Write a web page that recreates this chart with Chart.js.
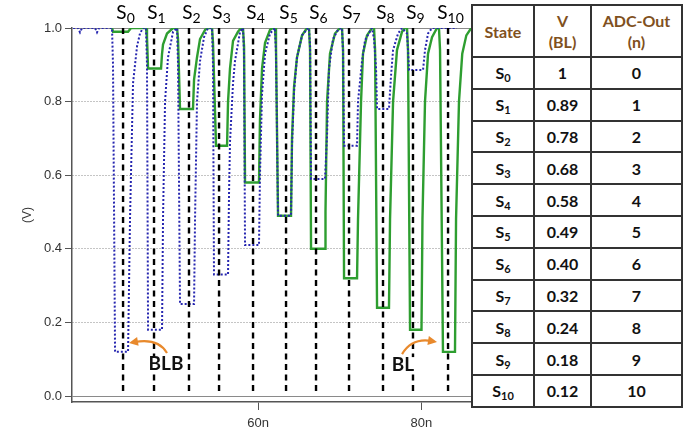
<!DOCTYPE html>
<html><head>
<meta charset="utf-8">
<title>BL / BLB sensing states</title>
<script src="https://cdn.jsdelivr.net/npm/chart.js@4"></script>
<style>
body { margin: 0; background: #fff; }
#wrap { position: relative; width: 697px; height: 432px; overflow: hidden; }
#chartBox { position: absolute; left: 0; top: 0; width: 697px; height: 432px; }
#tbl { position: absolute; left: 471px; top: 4px; width: 212px; table-layout: fixed; border-collapse: collapse;
  background: #fff; font-family: Lato, "Open Sans", sans-serif; font-weight: bold; font-size: 16px; color: #111; }
#tbl th, #tbl td { border: 2px solid #333; text-align: center; padding: 0; }
#tbl th { color: #7f5020; height: 50px; line-height: 21px; }
#tbl td { height: 29.8px; }
#tbl sub { font-size: 11px; vertical-align: -3px; line-height: 0; }
</style></head><body>
<div id="wrap">
<div id="chartBox"><canvas id="chart"></canvas></div>
<table id="tbl"></table>
</div>
<script>
// State marks (ns) and table contents
const stateSubs = ['0', '1', '2', '3', '4', '5', '6', '7', '8', '9', '10'];
const statePos = [43.48, 47.27, 51.55, 55.23, 59.39, 63.43, 67.10, 71.14, 75.30, 78.97, 83.26];
const blLevels = ['1', '0.89', '0.78', '0.68', '0.58', '0.49', '0.40', '0.32', '0.24', '0.18', '0.12'];
const adcOut = [0, 1, 2, 3, 4, 5, 6, 7, 8, 9, 10];

const yTicks = [0, 0.2, 0.4, 0.6, 0.8, 1.0];
const xTicks = [60, 80];

// BL waveform (green), [time ns, volts]
const blTrace = [
  [42.13, 1.0], [42.25, 0.99], [44.09, 0.99], [44.46, 1.0],
  [46.29, 1.0], [46.41, 0.975], [46.54, 0.89], [48.13, 0.89], [48.25, 0.93], [48.37, 0.955], [48.86, 0.985], [49.60, 1.0],
  [50.09, 1.0], [50.21, 0.97], [50.45, 0.78], [52.04, 0.78], [52.17, 0.86], [52.53, 0.92], [52.90, 0.97], [53.52, 0.995], [53.88, 1.0],
  [54.37, 1.0], [54.49, 0.96], [54.86, 0.68], [56.21, 0.68], [56.33, 0.80], [56.57, 0.89], [56.94, 0.965], [57.55, 0.99], [57.92, 1.0],
  [58.16, 1.0], [58.29, 0.95], [58.41, 0.58], [60.12, 0.58], [60.24, 0.75], [60.49, 0.89], [60.86, 0.96], [61.47, 0.995], [61.84, 1.0],
  [62.08, 1.0], [62.20, 0.95], [62.45, 0.49], [64.04, 0.49], [64.16, 0.70], [64.41, 0.84], [64.77, 0.92], [65.39, 0.98], [66.00, 1.0],
  [66.24, 1.0], [66.37, 0.94], [66.49, 0.40], [68.20, 0.40], [68.26, 0.50], [68.45, 0.80], [68.81, 0.93], [69.42, 0.985], [70.04, 1.0],
  [70.28, 1.0], [70.41, 0.94], [70.53, 0.32], [72.12, 0.32], [72.24, 0.48], [72.61, 0.80], [72.85, 0.93], [73.34, 0.98], [73.95, 1.0],
  [74.20, 1.0], [74.33, 0.94], [74.57, 0.24], [76.03, 0.24], [76.16, 0.48], [76.53, 0.80], [77.01, 0.94], [77.63, 0.99], [77.99, 1.0],
  [78.24, 1.0], [78.36, 0.94], [78.61, 0.18], [80.01, 0.18], [80.13, 0.48], [80.44, 0.80], [80.81, 0.93], [81.30, 0.975], [81.91, 1.0],
  [82.15, 1.0], [82.28, 0.94], [82.64, 0.12], [84.11, 0.12], [84.24, 0.48], [84.60, 0.80], [85.00, 0.93], [85.50, 0.98], [86.10, 1.0],
  [88.00, 1.0]
];

// BLB waveform (blue dotted), [time ns, volts]
const blbTrace = [
  [37.36, 1.0], [37.97, 1.0], [38.21, 0.988], [38.46, 1.0], [40.05, 1.0], [40.29, 0.988], [40.54, 1.0],
  [42.13, 1.0], [42.25, 0.90], [42.50, 0.12], [44.09, 0.12], [44.21, 0.30], [44.33, 0.48], [44.70, 0.85], [45.19, 0.95], [45.55, 0.985], [45.92, 1.0],
  [46.29, 1.0], [46.41, 0.90], [46.54, 0.18], [48.25, 0.18], [48.37, 0.48], [48.62, 0.80], [48.98, 0.92], [49.60, 0.99], [50.09, 1.0],
  [50.21, 0.90], [50.45, 0.25], [52.17, 0.25], [52.29, 0.48], [52.53, 0.80], [52.90, 0.91], [53.39, 0.975], [53.88, 1.0],
  [54.37, 1.0], [54.49, 0.90], [54.61, 0.33], [56.33, 0.33], [56.45, 0.55], [56.57, 0.69], [56.94, 0.85], [57.18, 0.91], [57.80, 0.99], [58.16, 1.0],
  [58.29, 0.93], [58.41, 0.41], [60.12, 0.41], [60.24, 0.60], [60.49, 0.82], [60.86, 0.93], [61.47, 0.985], [62.08, 1.0],
  [62.20, 0.93], [62.45, 0.49], [64.04, 0.49], [64.16, 0.68], [64.41, 0.83], [64.77, 0.92], [65.39, 0.98], [66.12, 1.0],
  [66.24, 1.0], [66.37, 0.95], [66.49, 0.59], [68.20, 0.59], [68.45, 0.71], [68.69, 0.89], [69.18, 0.97], [69.79, 0.995], [70.16, 1.0],
  [70.28, 1.0], [70.41, 0.93], [70.53, 0.68], [72.12, 0.68], [72.24, 0.80], [72.73, 0.91], [73.10, 0.967], [73.95, 1.0],
  [74.20, 0.97], [74.45, 0.89], [74.57, 0.78], [76.03, 0.78], [76.28, 0.87], [76.53, 0.94], [77.14, 0.985], [77.63, 1.0],
  [78.24, 0.985], [78.36, 0.94], [78.49, 0.886], [80.20, 0.886], [80.44, 0.94], [80.81, 0.985], [81.30, 1.0],
  [84.36, 1.0]
];

// annotation labels and arrows (data coords): text, label pos, arrow tail / bend / tip
const noteText = ['BLB', 'BL'];
const notePos = [[48.74, 0.087], [77.75, 0.084]];
const arrowTail = [[48.86, 0.117], [77.63, 0.114]];
const arrowBend = [[47.76, 0.158], [78.85, 0.158]];
const arrowTip = [[44.21, 0.144], [81.91, 0.147]];

const X_MIN = 37.23, X_MAX = 89.62, Y_MIN = -0.0163, Y_MAX = 1.0;

const markerSets = statePos.map(s => ({
  data: [[s, 1.0], [s, 0.01]],
  borderColor: '#000',
  borderWidth: 2.4,
  borderDash: [6, 4.5],
  pointRadius: 0,
  order: 1,
}));

const overlay = {
  id: 'overlay',
  afterDraw(chart) {
    const { ctx, scales: { x, y } } = chart;
    ctx.save();
    ctx.fillStyle = '#000';
    ctx.textAlign = 'left';
    ctx.textBaseline = 'alphabetic';
    statePos.forEach((s, i) => {
      const px = x.getPixelForValue(s);
      ctx.font = '19px Lato';
      const wS = ctx.measureText('S').width;
      ctx.font = '14px Lato';
      const wSub = ctx.measureText(stateSubs[i]).width;
      const left = px + 2.5 - (wS + wSub) / 2;
      ctx.font = '19px Lato';
      ctx.fillText('S', left, 19);
      ctx.font = '14px Lato';
      ctx.fillText(stateSubs[i], left + wS, 23);
    });

    // orange arrows
    ctx.strokeStyle = '#E8892C';
    ctx.fillStyle = '#E8892C';
    ctx.lineWidth = 2.2;
    for (let i = 0; i < arrowTip.length; i++) {
      const t0 = [x.getPixelForValue(arrowTail[i][0]), y.getPixelForValue(arrowTail[i][1])];
      const b = [x.getPixelForValue(arrowBend[i][0]), y.getPixelForValue(arrowBend[i][1])];
      const t1 = [x.getPixelForValue(arrowTip[i][0]), y.getPixelForValue(arrowTip[i][1])];
      const ang = Math.atan2(t1[1] - b[1], t1[0] - b[0]);
      const back = [t1[0] - 6 * Math.cos(ang), t1[1] - 6 * Math.sin(ang)];
      ctx.beginPath();
      ctx.moveTo(t0[0], t0[1]);
      ctx.quadraticCurveTo(b[0], b[1], back[0], back[1]);
      ctx.stroke();
      ctx.beginPath();
      ctx.moveTo(t1[0], t1[1]);
      ctx.lineTo(t1[0] - 9 * Math.cos(ang) + 4.5 * Math.sin(ang), t1[1] - 9 * Math.sin(ang) - 4.5 * Math.cos(ang));
      ctx.lineTo(t1[0] - 9 * Math.cos(ang) - 4.5 * Math.sin(ang), t1[1] - 9 * Math.sin(ang) + 4.5 * Math.cos(ang));
      ctx.closePath();
      ctx.fill();
    }

    // BLB / BL labels sit on a white patch, hiding the dashed marks behind them
    ctx.font = 'bold 19px Lato';
    ctx.textAlign = 'center';
    ctx.textBaseline = 'middle';
    noteText.forEach((t, i) => {
      const px = x.getPixelForValue(notePos[i][0]);
      const py = y.getPixelForValue(notePos[i][1]);
      const w = ctx.measureText(t).width;
      ctx.fillStyle = '#fff';
      ctx.fillRect(px - w / 2 - 1, py - 8, w + 2, 16);
      ctx.fillStyle = '#111';
      ctx.fillText(t, px, py);
    });
    ctx.restore();
  }
};

const axisFont = { family: 'Liberation Sans', size: 13 };

new Chart(document.getElementById('chart'), {
  type: 'line',
  data: {
    datasets: [
      ...markerSets,
      { label: 'BLB', data: blbTrace, borderColor: '#2626b0', borderWidth: 2, borderDash: [2, 2], pointRadius: 0, order: 2 },
      { label: 'BL', data: blTrace, borderColor: '#2e9e30', borderWidth: 2.4, pointRadius: 0, order: 3 },
    ]
  },
  options: {
    responsive: true,
    maintainAspectRatio: false,
    animation: false,
    layout: { padding: { left: 0, top: 28, right: 197, bottom: 0 } },
    plugins: { legend: { display: false }, tooltip: { enabled: false } },
    elements: { line: { tension: 0 } },
    scales: {
      x: {
        type: 'linear', min: X_MIN, max: X_MAX,
        afterBuildTicks: s => { s.ticks = xTicks.map(v => ({ value: v })); },
        afterFit: s => { s.height = 30; },
        grid: { drawOnChartArea: false, tickLength: 8, tickColor: '#555' },
        border: { color: '#555', width: 1.5 },
        ticks: { font: axisFont, color: '#333', padding: 6, maxRotation: 0, autoSkip: false, callback: v => v + 'n' }
      },
      y: {
        min: Y_MIN, max: Y_MAX,
        afterBuildTicks: s => { s.ticks = yTicks.map(v => ({ value: v })); },
        afterFit: s => { s.width = 72; },
        grid: { color: '#8a8a8a', tickLength: 7, tickColor: '#555', lineWidth: 1 },
        border: {
          color: '#555', width: 1.5,
          dash: c => (c.tick && c.tick.value > 0.01 && c.tick.value < 0.99) ? [1, 2] : []
        },
        ticks: { font: axisFont, color: '#333', padding: 3, callback: v => v.toFixed(1) },
        title: { display: true, text: '(V)', font: { family: 'Liberation Sans', size: 12 }, color: '#333', padding: { top: 20, bottom: 0 } }
      }
    }
  },
  plugins: [overlay]
});

// right-hand state table
let rows = '<colgroup><col style="width:62px"><col style="width:57px"><col style="width:91px"></colgroup>';
rows += '<tr><th>State</th><th>V<br>(BL)</th><th>ADC-Out<br>(n)</th></tr>';
stateSubs.forEach((s, i) => {
  rows += `<tr><td>S<sub>${s}</sub></td><td>${blLevels[i]}</td><td>${adcOut[i]}</td></tr>`;
});
document.getElementById('tbl').innerHTML = rows;
</script></body></html>
